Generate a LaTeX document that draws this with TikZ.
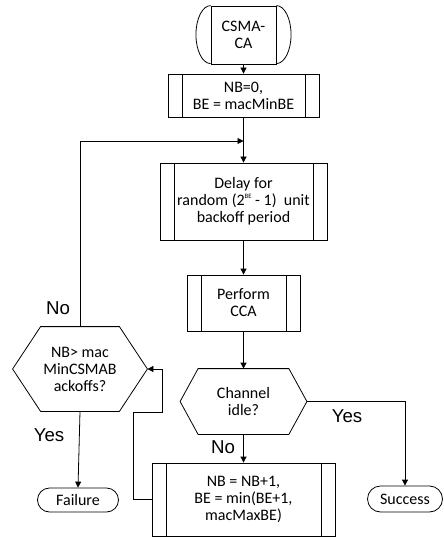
\documentclass[tikz,border=0pt]{standalone}
\usepackage{fontspec}
\setmainfont{Carlito}
\newfontfamily\labfont{Liberation Sans}
\usetikzlibrary{arrows.meta}
\begin{document}
\begin{tikzpicture}[x=0.75pt,y=-0.75pt, line width=0.6pt,
  box/.style={draw, rectangle, align=center, inner sep=0pt, font=\fontsize{12}{12.75}\selectfont},
  sub/.style={box, path picture={
      \draw ([xshift=10.5pt]path picture bounding box.north west) -- ([xshift=10.5pt]path picture bounding box.south west);
      \draw ([xshift=-10.5pt]path picture bounding box.north east) -- ([xshift=-10.5pt]path picture bounding box.south east);}},
  hexn/.style={rectangle, align=center, inner sep=0pt, font=\fontsize{12}{12.75}\selectfont},
  lab/.style={font=\labfont\fontsize{14}{16}\selectfont, inner sep=0pt},
  arr/.style={-{Triangle[length=4.5pt,width=4.5pt]}}]
\useasboundingbox (0,0) rectangle (443,538);

% nodes
\node[box, minimum width=48.75pt, minimum height=43.5pt] (start) at (243.5,35) {CSMA-\\CA};
\draw (start.north west) arc[start angle=90,end angle=270,x radius=11pt,y radius=21.75pt];
\draw (start.north east) arc[start angle=90,end angle=-90,x radius=11pt,y radius=21.75pt];

\node[sub, minimum width=113.25pt, minimum height=32.25pt] (init) at (243.5,95.5) {NB=0,\\BE = macMinBE};
\node[sub, minimum width=125.25pt, minimum height=57.75pt] (delay) at (243.5,201.5)
  {Delay for\\random (2\raisebox{0.9ex}{\fontsize{5}{5}\selectfont BE} - 1)\ \ unit\\backoff period};
\node[sub, minimum width=84.75pt, minimum height=42pt] (cca) at (243.5,303) {Perform\\CCA};

\node[hexn, minimum width=94.5pt, minimum height=48.75pt] (chan) at (243.5,401.5) {Channel\\idle?};
\draw (chan.west) -- ([xshift=13.5pt]chan.north west) -- ([xshift=-13.5pt]chan.north east) -- (chan.east)
  -- ([xshift=-13.5pt]chan.south east) -- ([xshift=13.5pt]chan.south west) -- cycle;

\node[sub, minimum width=137.25pt, minimum height=54.75pt] (upd) at (243.5,499.5) {NB = NB+1,\\BE = min(BE+1,\\macMaxBE)};

\node[hexn, minimum width=100.5pt, minimum height=63pt] (nb) at (80,369) {NB> mac\\MinCSMAB\\ackoffs?};
\draw (nb.west) -- ([xshift=21pt]nb.north west) -- ([xshift=-21pt]nb.north east) -- (nb.east)
  -- ([xshift=-21pt]nb.south east) -- ([xshift=21pt]nb.south west) -- cycle;

\node[box, rounded corners=9pt, minimum width=60.75pt, minimum height=18pt] (fail) at (78,500) {Failure};
\node[box, rounded corners=9.75pt, minimum width=56.25pt, minimum height=19.5pt] (succ) at (405,499) {Success};

% labels
\node[lab] (no1) at (58,308) {No};
\node[lab] (yes1) at (49,435) {Yes};
\node[lab] (yes2) at (347,416) {Yes};
\node[lab] (no2) at (223,447) {No};

% helper coordinates
\coordinate (j) at (243.5,141);
\coordinate (l1) at (133,412);
\coordinate (l2) at (162,412);

% connectors
\draw[arr] (start.south) -- (init.north);
\draw[arr] (init.south) -- (delay.north);
\draw[arr] (nb.north) |- (j);
\draw[arr] (delay.south) -- (cca.north);
\draw[arr] (cca.south) -- (chan.north);
\draw[arr] (chan.south) -- (upd.north);
\draw[arr] (chan.east) -| (succ.north);
\draw[arr] (upd.west) -| (l1) -- (l2) |- (nb.east);
\draw[arr] (nb.south) -- (fail.north);
\end{tikzpicture}
\end{document}
